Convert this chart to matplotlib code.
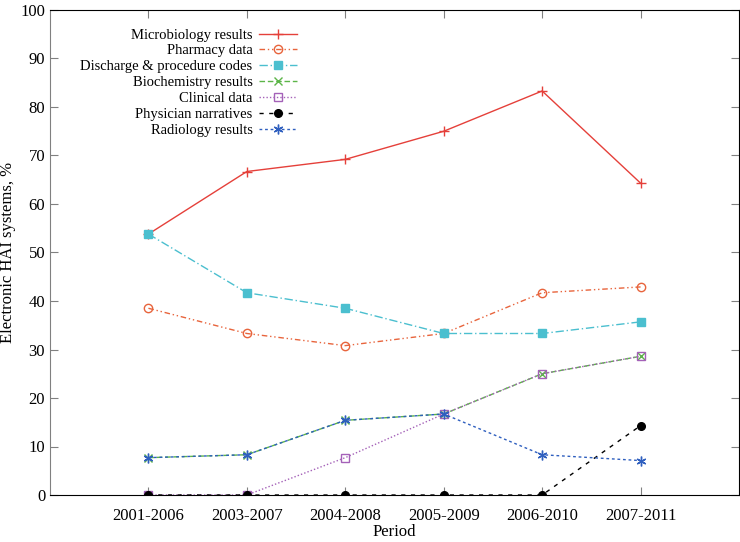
import matplotlib.pyplot as plt
import numpy as np

plt.rcParams['font.family'] = ['Liberation Serif', 'DejaVu Serif']
plt.rcParams['font.size'] = 12

periods = ['2001-2006', '2003-2007', '2004-2008', '2005-2009', '2006-2010', '2007-2011']
microbiology = [53.8, 66.7, 69.2, 75.0, 83.3, 64.3]
pharmacy = [38.5, 33.3, 30.8, 33.3, 41.7, 42.9]
discharge = [53.8, 41.7, 38.5, 33.3, 33.3, 35.7]
biochemistry = [7.7, 8.3, 15.4, 16.7, 25.0, 28.6]
clinical = [0, 0, 7.7, 16.7, 25.0, 28.6]
physician = [0, 0, 0, 0, 0, 14.3]
radiology = [7.7, 8.3, 15.4, 16.7, 8.3, 7.1]

x = np.arange(len(periods))

fig = plt.figure(figsize=(7.4, 5.42), dpi=100)
ax = fig.add_axes([50/740, 47/542, 689/740, 485/542])

ax.plot(x, microbiology, color='#e5403a', ls='-', lw=1, marker='+', ms=7, mew=1,
        label='Microbiology results')
ax.plot(x, pharmacy, color='#e8643c', ls=(0, (4, 2, 1, 2, 1, 2)), lw=1, marker='o', ms=6,
        mfc='none', mew=1, label='Pharmacy data')
ax.plot(x, discharge, color='#4bbfcf', ls=(0, (6, 2, 1, 2)), lw=1, marker='s', ms=5.5,
        label='Discharge & procedure codes')
ax.plot(x, biochemistry, color='#5cb548', ls=(0, (4, 2)), lw=1, marker='x', ms=5.5, mew=1,
        label='Biochemistry results')
ax.plot(x, clinical, color='#a461b8', ls=(0, (1, 1.5)), lw=1, marker='s', ms=6, mfc='none',
        mew=1, label='Clinical data')
ax.plot(x, physician, color='black', ls=(0, (3, 4)), lw=1, marker='o', ms=5.5,
        label='Physician narratives')
ax.plot(x, radiology, color='#2f5fbf', ls=(0, (2, 2)), lw=1, marker=(6, 2, 0), ms=7, mew=1,
        label='Radiology results')

ax.set_xlim(-1, 6)
ax.set_ylim(0, 100)
ax.set_xticks(x)
ax.set_xticklabels(periods)
ax.set_yticks(np.arange(0, 101, 10))
ax.tick_params(direction='in', top=True, right=True, length=6, color='#808080')
ax.tick_params(axis='x', pad=9)
ax.spines['left'].set_color('#808080')
ax.set_xlabel('Period', labelpad=0)
ax.set_ylabel('Electronic HAI systems, %')
ax.yaxis.set_label_coords(-0.049, 0.5)

ax.legend(loc='upper right', bbox_to_anchor=((297 - 50) / 689, 0.962), frameon=False,
          markerfirst=False, fontsize=10.5, handlelength=2.6, handletextpad=0.45,
          labelspacing=0.18, borderpad=0, borderaxespad=0)

fig.savefig('out.png', dpi=100)
